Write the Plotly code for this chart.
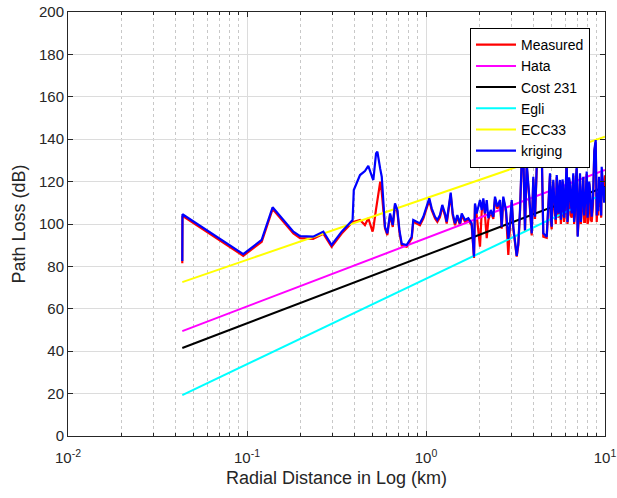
import plotly.graph_objects as go

# ---- data ----
distance_km = [
    0.0435, 0.0436, 0.0953, 0.1208, 0.139, 0.1816, 0.198, 0.234, 0.267, 0.297, 0.338, 0.389,
    0.395, 0.428, 0.456, 0.476, 0.503, 0.508, 0.526, 0.535, 0.555, 0.566, 0.590,
    0.608, 0.630, 0.652, 0.671, 0.692, 0.710, 0.732, 0.780, 0.832, 0.849, 0.887, 0.925,
    0.966, 1.009, 1.043, 1.076, 1.123, 1.157, 1.197, 1.233, 1.276, 1.305, 1.343, 1.374,
    1.410, 1.452, 1.496, 1.549, 1.583, 1.652, 1.723, 1.800, 1.854, 1.878, 1.920, 2.003,
    2.047, 2.090, 2.136, 2.184, 2.229, 2.299, 2.377, 2.429, 2.502, 2.591, 2.648, 2.702,
    2.798, 2.883, 2.947, 3.012, 3.074, 3.212, 3.279, 3.351, 3.425, 3.496, 3.573, 3.652,
    3.776, 3.895, 3.976, 4.064, 4.154, 4.335, 4.430, 4.522, 4.724, 4.82, 4.929, 4.98,
    5.038, 5.09, 5.143, 5.20, 5.257, 5.31, 5.373, 5.43, 5.484, 5.545, 5.605, 5.667,
    5.729, 5.79, 5.848, 5.91, 5.977, 6.04, 6.109, 6.17, 6.237, 6.30, 6.375, 6.445,
    6.516, 6.58, 6.651, 6.72, 6.798, 6.87, 6.948, 7.038, 7.14, 7.251, 7.33, 7.411,
    7.49, 7.565, 7.65, 7.733, 7.82, 7.904, 7.99, 8.068, 8.16, 8.247, 8.34, 8.429,
    8.57, 8.715, 8.873, 8.99, 9.104, 9.18, 9.258, 9.36, 9.462, 9.52, 9.585, 9.68,
    9.784, 9.89, 10.0,
]

kriging_db = [
    82.5, 104.6, 85.8, 92.5, 107.9, 96.4, 94.3, 94.0, 96.4, 90.1, 96.4, 101.9,
    116.0, 123.1, 125.0, 127.4, 121.5, 120.8, 133.3, 134.1, 126.0, 122.3, 98.7,
    95.6, 105.0, 99.5, 109.7, 106.6, 97.2, 90.6, 90.1, 94.0, 101.9, 101.1, 100.3,
    103.4, 109.0, 112.1, 107.4, 103.4, 101.9, 104.2, 109.0, 105.0, 101.1, 108.2, 114.8,
    105.0, 100.3, 104.2, 100.3, 105.0, 101.9, 102.7, 100.3, 84.6, 109.7, 105.0, 111.3,
    106.6, 112.1, 105.0, 111.3, 102.7, 106.6, 103.4, 112.9, 108.2, 111.3, 98.7, 112.9,
    106.6, 93.0, 100.0, 111.3, 98.7, 85.0, 90.9, 106.6, 130.2, 133.5, 97.2, 128.6,
    112.9, 95.6, 122.3, 103.4, 127.0, 136.0, 134.9, 95.6, 94.0, 112.0, 123.9, 104.0,
    98.7, 116.0, 120.8, 112.0, 106.6, 102.0, 123.1, 118.0, 105.0, 110.0, 120.8, 102.0,
    106.6, 121.0, 117.6, 103.0, 108.2, 118.0, 130.2, 101.0, 106.6, 122.0, 119.2, 110.0,
    105.0, 116.0, 123.9, 101.0, 106.6, 120.0, 127.0, 94.0, 108.0, 123.9, 101.0, 108.2,
    119.0, 122.3, 104.0, 108.0, 115.0, 124.7, 103.0, 106.6, 120.0, 116.0, 108.0, 103.4,
    112.0, 134.9, 139.6, 104.0, 114.5, 106.0, 122.3, 110.0, 116.0, 104.0, 127.0, 121.0,
    114.5, 110.0, 117.6,
]

measured_db = [
    81.5, 103.8, 85.0, 91.6, 107.0, 95.5, 93.3, 93.0, 95.4, 89.2, 95.5, 101.0,
    101.0, 101.9, 99.5, 102.7, 96.4, 98.0, 107.0, 112.0, 120.0, 115.0, 98.0,
    94.8, 104.2, 98.6, 108.8, 105.7, 96.3, 89.8, 89.3, 93.2, 101.0, 100.2, 99.4,
    102.6, 108.1, 111.2, 106.5, 102.6, 101.0, 103.3, 108.1, 104.1, 100.2, 107.3, 113.9,
    104.1, 99.4, 103.3, 99.4, 104.1, 101.0, 101.8, 99.4, 84.0, 108.8, 104.0, 89.3,
    105.7, 111.2, 104.0, 93.3, 101.8, 105.6, 102.4, 111.9, 107.2, 110.3, 97.8, 111.9,
    105.6, 85.4, 99.0, 110.3, 97.7, 84.6, 89.9, 105.6, 129.2, 132.5, 96.2, 127.6,
    111.9, 94.6, 121.3, 102.4, 126.0, 134.8, 133.8, 94.0, 93.5, 110.0, 122.8, 101.0,
    97.5, 114.0, 119.7, 108.0, 104.5, 100.0, 122.0, 117.0, 103.0, 106.0, 119.8, 100.0,
    104.5, 120.0, 116.6, 101.0, 106.0, 117.0, 129.2, 100.0, 104.5, 121.0, 118.2, 104.0,
    103.0, 115.0, 122.9, 100.0, 104.5, 119.0, 126.0, 94.5, 102.0, 122.9, 100.0, 105.5,
    118.0, 121.3, 101.0, 101.0, 114.0, 123.7, 100.0, 101.5, 119.0, 115.0, 102.0, 101.0,
    109.0, 133.9, 138.6, 101.0, 113.5, 104.0, 121.3, 108.0, 118.0, 103.0, 124.0, 119.0,
    118.0, 114.0, 123.0,
]

model_distance_km = [0.0435, 10.0]
hata_db = [49.5, 125.5]
cost231_db = [41.5, 117.5]
egli_db = [19.3, 114.5]
ecc33_db = [72.6, 141.2]

x_tick_vals = [0.01, 0.1, 1, 10]
x_tick_text = ["10<sup>-2</sup>", "10<sup>-1</sup>", "10<sup>0</sup>", "10<sup>1</sup>"]
x_minor_vals = [m * d for d in (0.01, 0.1, 1) for m in range(2, 10)]
y_tick_vals = list(range(0, 201, 20))

# ---- figure ----
fig = go.Figure()
fig.add_trace(go.Scatter(x=distance_km, y=measured_db, mode="lines", name="Measured",
                         line=dict(color="#ff0000", width=2.2)))
fig.add_trace(go.Scatter(x=model_distance_km, y=hata_db, mode="lines", name="Hata",
                         line=dict(color="#ff00ff", width=2)))
fig.add_trace(go.Scatter(x=model_distance_km, y=cost231_db, mode="lines", name="Cost 231",
                         line=dict(color="#000000", width=2)))
fig.add_trace(go.Scatter(x=model_distance_km, y=egli_db, mode="lines", name="Egli",
                         line=dict(color="#00ffff", width=2)))
fig.add_trace(go.Scatter(x=model_distance_km, y=ecc33_db, mode="lines", name="ECC33",
                         line=dict(color="#ffff00", width=2)))
fig.add_trace(go.Scatter(x=distance_km, y=kriging_db, mode="lines", name="kriging",
                         line=dict(color="#0000ff", width=2.2)))

font_family = "Liberation Sans, Arial, sans-serif"

fig.update_layout(
    width=617, height=498,
    margin=dict(l=68, r=12, t=12, b=62, autoexpand=False),
    paper_bgcolor="white", plot_bgcolor="white",
    font=dict(family=font_family, size=15, color="#262626"),
    showlegend=True,
    legend=dict(x=0.7486, y=0.962, xanchor="left", yanchor="top",
                bgcolor="white", bordercolor="#000000", borderwidth=1,
                font=dict(size=14, color="#000000"), itemwidth=40,
                tracegroupgap=0),
)

fig.update_xaxes(
    type="log", range=[-2, 1], automargin=False,
    tickmode="array", tickvals=x_tick_vals, ticktext=x_tick_text,
    ticklabelstandoff=8,
    showline=True, linecolor="#262626", linewidth=1, mirror="ticks",
    ticks="inside", ticklen=5, tickcolor="#262626",
    showgrid=True, gridcolor="#dcdcdc", gridwidth=1,
    minor=dict(tickmode="array", tickvals=x_minor_vals, ticks="inside", ticklen=3,
               tickcolor="#262626", showgrid=True, gridcolor="#c8c8c8",
               griddash="dot", gridwidth=1),
    title=dict(text="Radial Distance in Log (km)", font=dict(size=18), standoff=6),
    zeroline=False,
)

fig.update_yaxes(
    range=[0, 200], tickmode="array", tickvals=y_tick_vals, automargin=False,
    showline=True, linecolor="#262626", linewidth=1, mirror="ticks",
    ticks="inside", ticklen=5, tickcolor="#262626",
    showgrid=True, gridcolor="#dcdcdc", gridwidth=1,
    title=dict(text="Path Loss (dB)", font=dict(size=18), standoff=8),
    zeroline=False,
)

fig.write_html("out.html")
